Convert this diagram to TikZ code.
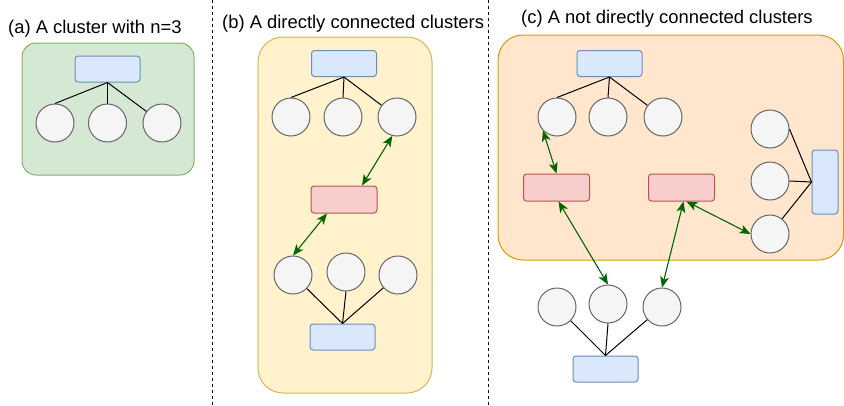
\documentclass[tikz,border=0pt]{standalone}
\usepackage{fontspec}
\setmainfont{Liberation Sans}
\usetikzlibrary{arrows.meta}

\definecolor{gfill}{HTML}{D5E8D4}
\definecolor{gline}{HTML}{82B366}
\definecolor{yfill}{HTML}{FFF2CC}
\definecolor{yline}{HTML}{D6B656}
\definecolor{ofill}{HTML}{FFE6CC}
\definecolor{oline}{HTML}{D79B00}
\definecolor{bfill}{HTML}{DAE8FC}
\definecolor{bline}{HTML}{6C8EBF}
\definecolor{rfill}{HTML}{F8CECC}
\definecolor{rline}{HTML}{B85450}
\definecolor{cfill}{HTML}{F5F5F5}
\definecolor{cline}{HTML}{666666}
\definecolor{agreen}{HTML}{006600}

\begin{document}
\begin{tikzpicture}[x=1pt,y=-1pt,
  panel/.style={line width=1pt},
  head/.style={rectangle, draw=bline, fill=bfill, line width=1pt, inner sep=0pt,
    minimum width=65pt, minimum height=26pt, rounded corners=3pt},
  vhead/.style={head, minimum width=26pt, minimum height=64pt},
  relay/.style={rectangle, draw=rline, fill=rfill, line width=1pt, inner sep=0pt,
    minimum width=66pt, minimum height=27pt, rounded corners=3pt},
  member/.style={circle, draw=cline, fill=cfill, line width=1pt, inner sep=0pt,
    minimum size=38pt},
  link/.style={draw=black, line width=1pt},
  biarrow/.style={draw=agreen, line width=1.1pt,
    {Stealth[length=11pt,width=9pt,inset=3pt]}-{Stealth[length=11pt,width=9pt,inset=3pt]}},
  caption/.style={anchor=base west, inner sep=0pt, font=\fontsize{18.4}{20}\selectfont},
  divider/.style={draw=black, line width=0.8pt, dash pattern=on 3pt off 3pt}]

\useasboundingbox (0,0) rectangle (844,405);

% column dividers
\draw[divider] (212.5,0) -- (212.5,405);
\draw[divider] (488.5,0) -- (488.5,405);

% captions
\node[caption] (ta) at (8,33) {(a) A cluster with n=3};
\node[caption] (tb) at (222,28) {(b) A directly connected clusters};
\node[caption] (tc) at (521,23) {(c) A not directly connected clusters};

% cluster backgrounds
\draw[panel, fill=gfill, draw=gline, rounded corners=14pt] (22,43) rectangle (194,175);
\draw[panel, fill=yfill, draw=yline, rounded corners=25pt] (258,37) rectangle (432,393);
\draw[panel, fill=ofill, draw=oline, rounded corners=25pt] (498,35) rectangle (843.5,260);

% (a) single cluster
\node[head] (ha) at (107.5,69) {};
\node[member] (a1) at (55,123) {};
\node[member] (a2) at (107.5,123) {};
\node[member] (a3) at (162,123) {};
\draw[link] (ha.south) -- (a1.north);
\draw[link] (ha.south) -- (a2.north);
\draw[link] (ha.south) -- (a3);

% (b) two clusters joined by one relay
\node[head] (hb1) at (344,63.5) {};
\node[member] (b1) at (291,117) {};
\node[member] (b2) at (343,117) {};
\node[member] (b3) at (397,117) {};
\node[relay] (rb) at (344,199.5) {};
\node[member] (b4) at (293,275) {};
\node[member] (b5) at (346,272) {};
\node[member] (b6) at (398,275) {};
\node[head] (hb2) at (342.5,337) {};
\draw[link] (hb1.south) -- (b1.north);
\draw[link] (hb1.south) -- (b2.north);
\draw[link] (hb1.south) -- (b3);
\draw[link] (hb2.north) -- (b4);
\draw[link] (hb2.north) -- (b5.south);
\draw[link] (hb2.north) -- (b6);
\draw[biarrow] ([xshift=18pt]rb.north) -- (b3.256);
\draw[biarrow] ([xshift=-17pt]rb.south) -- (b4.north);

% (c) clusters joined through two relays
\node[head] (hc1) at (609.5,63.5) {};
\node[member] (c1) at (557,117) {};
\node[member] (c2) at (608,117) {};
\node[member] (c3) at (663,117) {};
\node[relay] (rl) at (556.5,187.5) {};
\node[relay] (rr) at (681.5,187.5) {};
\node[member] (d1) at (770,129) {};
\node[member] (d2) at (770,181) {};
\node[member] (d3) at (770,234) {};
\node[vhead] (hc2) at (825,182) {};
\node[member] (e1) at (557,307) {};
\node[member] (e2) at (608,304) {};
\node[member] (e3) at (662,307) {};
\node[head] (hc3) at (605.5,369) {};
\draw[link] (hc1.south) -- (c1.north);
\draw[link] (hc1.south) -- (c2.north);
\draw[link] (hc1.south) -- (c3);
\draw[link] (hc2.west) -- (d1.east);
\draw[link] (hc2.west) -- (d2.east);
\draw[link] (hc2.west) -- (d3);
\draw[link] (hc3.north) -- (e1);
\draw[link] (hc3.north) -- (e2.south);
\draw[link] (hc3.north) -- (e3);
\draw[biarrow] (c1.224) -- (rl.north);
\draw[biarrow] ([xshift=2pt]rl.south) -- (e2.north);
\draw[biarrow] ([xshift=2pt]rr.south) -- (e3.north);
\draw[biarrow] ([xshift=5pt]rr.south) -- (d3.west);
\end{tikzpicture}
\end{document}
